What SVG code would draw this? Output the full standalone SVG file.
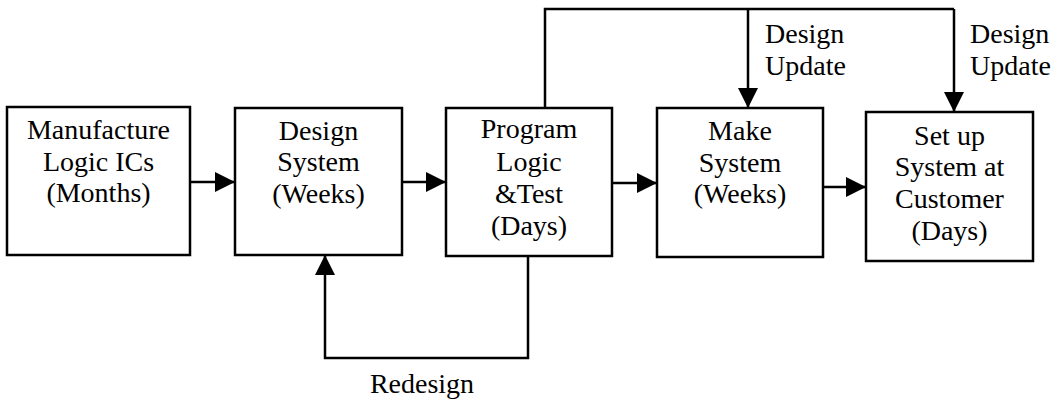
<svg xmlns="http://www.w3.org/2000/svg" width="1052" height="403" viewBox="0 0 1052 403">
<style>
.box{fill:#fff;stroke:#000;stroke-width:2.5}
.ln{fill:none;stroke:#000;stroke-width:2.5}
text{font-family:"Liberation Serif","Times New Roman",serif;font-size:28px;fill:#000}
.c{text-anchor:middle}
</style>
<defs>
<marker id="ah" viewBox="0 0 20 20" refX="20" refY="10" markerWidth="20" markerHeight="20" markerUnits="userSpaceOnUse" orient="auto">
<path d="M0,0 L20,10 L0,20 Z" fill="#000"/>
</marker>
</defs>
<rect width="1052" height="403" fill="#fff"/>
<g id="connectors">
<line class="ln" x1="190" y1="182" x2="235" y2="182" marker-end="url(#ah)"/>
<line class="ln" x1="402" y1="182" x2="446" y2="182" marker-end="url(#ah)"/>
<line class="ln" x1="612" y1="183" x2="657" y2="183" marker-end="url(#ah)"/>
<line class="ln" x1="823" y1="187" x2="866" y2="187" marker-end="url(#ah)"/>
<polyline class="ln" points="545,108 545,9 954,9"/>
<line class="ln" x1="748" y1="9" x2="748" y2="108" marker-end="url(#ah)"/>
<line class="ln" x1="954" y1="9" x2="954" y2="112" marker-end="url(#ah)"/>
<polyline class="ln" points="528,256 528,358 325,358 325,255" marker-end="url(#ah)"/>
<text x="765" y="43">Design</text>
<text x="765" y="75">Update</text>
<text x="970" y="43">Design</text>
<text x="970" y="75">Update</text>
<text class="c" x="422" y="393">Redesign</text>
</g>
<g id="n1">
<rect class="box" x="7" y="107" width="183" height="148"/>
<text class="c" x="98.5" y="139">Manufacture</text>
<text class="c" x="98.5" y="171">Logic ICs</text>
<text class="c" x="98.5" y="202">(Months)</text>
</g>
<g id="n2">
<rect class="box" x="235" y="108" width="167" height="147"/>
<text class="c" x="318.5" y="140">Design</text>
<text class="c" x="318.5" y="171">System</text>
<text class="c" x="318.5" y="203">(Weeks)</text>
</g>
<g id="n3">
<rect class="box" x="446" y="108" width="166" height="148"/>
<text class="c" x="529" y="138">Program</text>
<text class="c" x="529" y="171">Logic</text>
<text class="c" x="529" y="203">&amp;Test</text>
<text class="c" x="529" y="235">(Days)</text>
</g>
<g id="n4">
<rect class="box" x="657" y="108" width="166" height="149"/>
<text class="c" x="740" y="140">Make</text>
<text class="c" x="740" y="172">System</text>
<text class="c" x="740" y="203">(Weeks)</text>
</g>
<g id="n5">
<rect class="box" x="866" y="112" width="167" height="149"/>
<text class="c" x="949.5" y="145">Set up</text>
<text class="c" x="949.5" y="176">System at</text>
<text class="c" x="949.5" y="208">Customer</text>
<text class="c" x="949.5" y="240">(Days)</text>
</g>
</svg>
